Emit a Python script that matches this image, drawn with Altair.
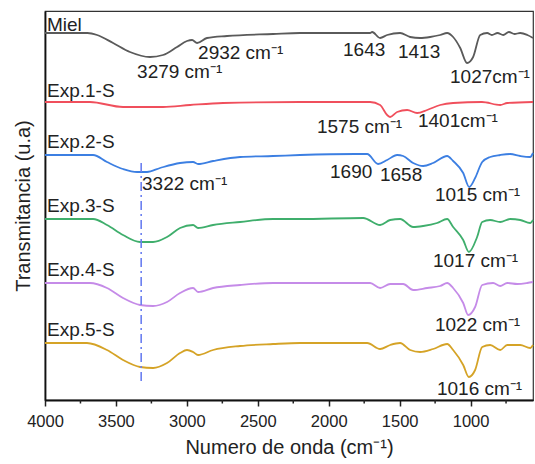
import altair as alt
import pandas as pd

# ---- data ----
series_names = ["Miel", "Exp.1-S", "Exp.2-S", "Exp.3-S", "Exp.4-S", "Exp.5-S"]
series_colors = ["#5a5a5a", "#f04f5c", "#3c7fe2", "#3fae6c", "#c58be8", "#d5a326"]

miel_wn = [4000, 3700, 3633, 3520, 3401, 3260, 3168, 3069, 2999, 2963, 2928, 2858, 2717, 2392, 2202,
           1800, 1708, 1694, 1638, 1588, 1497, 1426, 1356, 1285, 1214, 1165, 1123, 1073, 1025, 982,
           932, 883, 850, 810, 770, 730, 690, 650, 600, 560]
miel_t = [367, 367, 365, 357, 348, 343, 345, 353, 359, 360, 357, 362, 364, 366, 367,
          367, 367, 368, 362, 365, 367, 363, 362, 363, 365, 367, 363, 352, 337, 343,
          365, 367, 365, 367, 365, 368, 366, 367, 365, 362]

exp1_wn = [4000, 3683, 3450, 3168, 2977, 2745, 2202, 1757, 1708, 1638, 1588, 1567, 1518, 1447, 1377,
           1306, 1214, 1123, 920, 791, 742, 560]
exp1_t = [298, 298, 293, 293, 295, 297, 298, 298, 298, 295, 285, 283, 288, 290, 287,
          290, 295, 297, 298, 295, 297, 298]

exp2_wn = [4000, 3661, 3563, 3450, 3351, 3281, 3189, 3048, 2956, 2921, 2815, 2625, 2392, 2202, 1814,
           1729, 1652, 1588, 1518, 1475, 1405, 1334, 1264, 1165, 1123, 1052, 1010, 968, 918, 862,
           791, 721, 650, 580, 560]
exp2_t = [245, 245, 238, 231, 228, 228, 232, 237, 238, 236, 239, 243, 244, 245, 246,
          246, 236, 240, 245, 244, 237, 234, 237, 244, 239, 227, 213, 222, 238, 243,
          245, 246, 244, 243, 247]

exp3_wn = [4000, 3661, 3563, 3450, 3330, 3238, 3140, 3048, 2956, 2921, 2815, 2625, 2392, 2202, 1757,
           1638, 1567, 1497, 1405, 1334, 1236, 1165, 1123, 1052, 1012, 954, 918, 862, 791, 721,
           650, 580, 560]
exp3_t = [181, 181, 175, 165, 158, 158, 163, 172, 175, 172, 175, 178, 181, 181, 182,
          175, 180, 181, 173, 174, 177, 181, 173, 160, 148, 163, 178, 180, 178, 181,
          180, 177, 180]

exp4_wn = [4000, 3683, 3563, 3450, 3330, 3238, 3140, 3048, 2956, 2921, 2815, 2625, 2392, 2202, 1708,
           1638, 1567, 1475, 1405, 1306, 1214, 1165, 1123, 1052, 1017, 968, 918, 841, 791, 742,
           671, 601, 560]
exp4_t = [117, 117, 112, 102, 95, 94, 98, 107, 112, 108, 112, 115, 117, 117, 117,
          112, 116, 116, 110, 112, 114, 117, 112, 97, 85, 93, 115, 117, 114, 117,
          116, 117, 118]

exp5_wn = [4000, 3704, 3563, 3450, 3330, 3238, 3140, 3048, 2999, 2956, 2921, 2815, 2625, 2392, 2202,
           1729, 1638, 1567, 1497, 1426, 1356, 1264, 1165, 1123, 1052, 1012, 968, 918, 862, 791,
           742, 650, 580, 560]
exp5_t = [57, 57, 50, 40, 33, 32, 37, 47, 50, 48, 45, 50, 54, 56, 57,
          57, 51, 55, 57, 50, 48, 51, 56, 50, 35, 23, 30, 53, 55, 50,
          55, 55, 52, 55]

major_ticks = [4000, 3500, 3000, 2500, 2000, 1500, 1000]
minor_ticks = [3750, 3250, 2750, 2250, 1750, 1250, 750]

ref_wn = [3322, 3322]
ref_t = [237, 15]

ann_text = ["Miel", "2932 cm⁻¹", "3279 cm⁻¹", "1643", "1413", "1027cm⁻¹",
            "Exp.1-S", "1575 cm⁻¹", "1401cm⁻¹",
            "Exp.2-S", "3322 cm⁻¹", "1690", "1658", "1015 cm⁻¹",
            "Exp.3-S", "1017 cm⁻¹",
            "Exp.4-S", "1022 cm⁻¹",
            "Exp.5-S", "1016 cm⁻¹"]
ann_wn = [3986, 2921, 3351, 1899, 1512, 1145,
          3986, 2083, 1371,
          3986, 3316, 1991, 1639, 1251,
          3986, 1265,
          3986, 1251,
          3986, 1237]
ann_t = [375, 347, 328, 350, 348, 323,
         309, 273, 279,
         258, 216, 228, 225, 205,
         194, 139,
         130, 75,
         70, 11]

# ---- tables ----
all_wn = [miel_wn, exp1_wn, exp2_wn, exp3_wn, exp4_wn, exp5_wn]
all_t = [miel_t, exp1_t, exp2_t, exp3_t, exp4_t, exp5_t]
rows = []
for name, wns, ts in zip(series_names, all_wn, all_t):
    for w, t in zip(wns, ts):
        rows.append({"serie": name, "wn": w, "T": t})
spectra = pd.DataFrame(rows)
ref_df = pd.DataFrame({"wn": ref_wn, "T": ref_t})
ann_df = pd.DataFrame({"label": ann_text, "wn": ann_wn, "T": ann_t})
minor_df = pd.DataFrame({"wn": minor_ticks})

FONT = "Liberation Sans"
xscale = alt.Scale(domain=[4000, 560], zero=False, nice=False)
yscale = alt.Scale(domain=[0, 389], zero=False, nice=False)

lines = alt.Chart(spectra).mark_line(strokeWidth=1.8, interpolate="monotone").encode(
    x=alt.X("wn:Q", scale=xscale,
            axis=alt.Axis(values=major_ticks, title="Numero de onda (cm⁻¹)", grid=False,
                          tickSize=6, tickWidth=1.5, tickColor="#222", domainColor="#111",
                          domainWidth=1.8, labelPadding=7, labelFontSize=16.5, labelFont=FONT,
                          labelColor="#222", labelFlush=False, labelOverlap=False,
                          titleFont=FONT, titleFontSize=20,
                          titleFontWeight="normal", titleColor="#222", titlePadding=8,
                          orient="bottom", format="d")),
    y=alt.Y("T:Q", scale=yscale,
            axis=alt.Axis(labels=False, ticks=False, grid=False, title="Transmitancia (u.a)",
                          domainColor="#111", domainWidth=1.8, titleFont=FONT, titleFontSize=20,
                          titleFontWeight="normal", titleColor="#222", titlePadding=12)),
    color=alt.Color("serie:N", scale=alt.Scale(domain=series_names, range=series_colors),
                    legend=None),
    detail="serie:N",
)

refline = alt.Chart(ref_df).mark_line(
    color="#6b7ff0", strokeWidth=1.6, strokeDash=[9, 4, 2, 4]
).encode(
    x=alt.X("wn:Q", scale=xscale),
    y=alt.Y("T:Q", scale=yscale),
)

minor = alt.Chart(minor_df).mark_rule(color="#222", strokeWidth=1.5).encode(
    x=alt.X("wn:Q", scale=xscale),
    y=alt.value(389),
    y2=alt.value(392.5),
)

texts = alt.Chart(ann_df).mark_text(
    align="left", baseline="middle", font=FONT, fontSize=19, color="#222"
).encode(
    x=alt.X("wn:Q", scale=xscale),
    y=alt.Y("T:Q", scale=yscale),
    text="label:N",
)

chart = alt.layer(lines, refline, minor, texts).properties(
    width=488, height=389,
    autosize=alt.AutoSizeParams(type="none"),
    padding={"left": 45, "top": 11, "right": 2, "bottom": 64},
    background="white",
).configure_view(stroke="#333", strokeWidth=1.2)

chart.save("out.html", embed_options={"renderer": "svg", "actions": False})
